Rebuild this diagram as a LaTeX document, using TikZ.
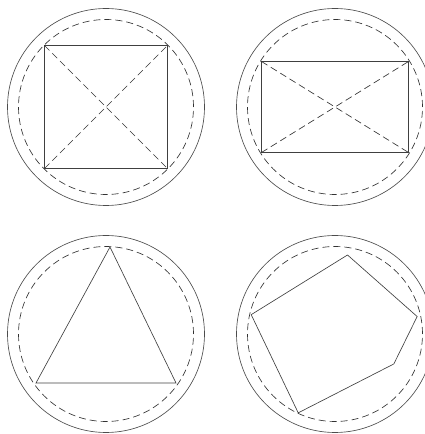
\documentclass[tikz,border=0pt]{standalone}
\usetikzlibrary{calc}
\begin{document}
\begin{tikzpicture}[x=1pt,y=1pt, line width=0.65pt, draw=black!75,
  rim/.style={draw=black!70},
  guide/.style={draw=black!80, dash pattern=on 7pt off 4pt},
  figure/.style={draw=black!75}]
\useasboundingbox (0,0) rectangle (425,434);
\clip (0,0) rectangle (425,434);
\coordinate (tl) at (106,327);
\coordinate (tr) at (335,327);
\coordinate (bl) at (106,100);
\coordinate (br) at (335,100);
\foreach \c in {tl,tr,bl,br} {
  \draw[rim] (\c) circle (98.5);
  \draw[guide] (\c) circle (87.5);
}
% square
\draw[figure] ($(tl)+(-61.5,-61.5)$) rectangle ($(tl)+(61.5,61.5)$);
\draw[guide] ($(tl)+(-61.5,-61.5)$) -- ($(tl)+(61.5,61.5)$);
\draw[guide] ($(tl)+(-61.5,61.5)$) -- ($(tl)+(61.5,-61.5)$);
% rectangle
\draw[figure] ($(tr)+(-73.5,-45.5)$) rectangle ($(tr)+(73.5,45.5)$);
\draw[guide] ($(tr)+(-73.5,-45.5)$) -- ($(tr)+(73.5,45.5)$);
\draw[guide] ($(tr)+(-73.5,45.5)$) -- ($(tr)+(73.5,-45.5)$);
% triangle
\draw[figure] ($(bl)+(4,87)$) -- ($(bl)+(-70,-49)$) -- ($(bl)+(70,-49)$) -- cycle;
% pentagon
\draw[figure] ($(br)+(81:80)$) -- ($(br)+(12:84)$) -- ($(br)+(333:66)$)
  -- ($(br)+(245:87)$) -- ($(br)+(167:86)$) -- cycle;
\end{tikzpicture}
\end{document}
